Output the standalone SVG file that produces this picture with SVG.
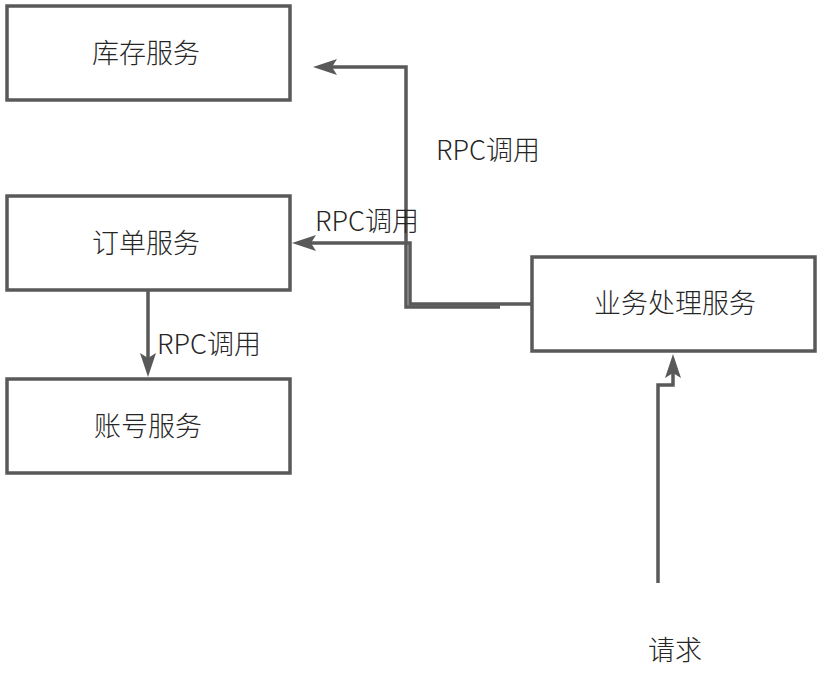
<svg xmlns="http://www.w3.org/2000/svg" width="822" height="688" viewBox="0 0 822 688">
<style>
.box{fill:#ffffff;stroke:#595959;stroke-width:3.5}
.lbl{font-family:"Noto Sans CJK SC","Noto Sans",sans-serif;font-size:27px;font-weight:300;fill:#262626;text-anchor:middle}
.edge{fill:none;stroke:#595959;stroke-width:3.5;marker-end:url(#arr)}
.elbl{font-family:"Noto Sans CJK SC","Noto Sans",sans-serif;font-size:27px;font-weight:300;fill:#262626;text-anchor:middle}
</style>
<defs>
<marker id="arr" markerUnits="userSpaceOnUse" viewBox="-6 -9 26 18" refX="0" refY="0" markerWidth="26" markerHeight="18" orient="auto">
<path d="M19,0 L-5,-8 L0,0 L-5,8 Z" fill="#595959"/>
</marker>
</defs>
<rect width="822" height="688" fill="#ffffff"/>
<g id="connectors">
<polyline class="edge" points="500,307 406,307 406,67 332,67"/>
<polyline class="edge" points="531,304 410,304 410,243 311,243"/>
<polyline class="edge" points="148,291 148,358"/>
<polyline class="edge" points="658,583 658,385 673,385 673,373"/>
<text class="elbl" x="488" y="160">RPC调用</text>
<text class="elbl" x="367" y="231">RPC调用</text>
<text class="elbl" x="209" y="354">RPC调用</text>
</g>
<g id="inventory">
<rect class="box" x="7" y="6" width="283" height="94"/>
<text class="lbl" x="146" y="63">库存服务</text>
</g>
<g id="order">
<rect class="box" x="7" y="196" width="283" height="94"/>
<text class="lbl" x="146" y="253">订单服务</text>
</g>
<g id="account">
<rect class="box" x="7" y="379" width="283" height="94"/>
<text class="lbl" x="148" y="436">账号服务</text>
</g>
<g id="business">
<rect class="box" x="532" y="257" width="283" height="94"/>
<text class="lbl" x="675" y="313">业务处理服务</text>
</g>
<g id="request">
<text class="lbl" x="675" y="660">请求</text>
</g>
</svg>
